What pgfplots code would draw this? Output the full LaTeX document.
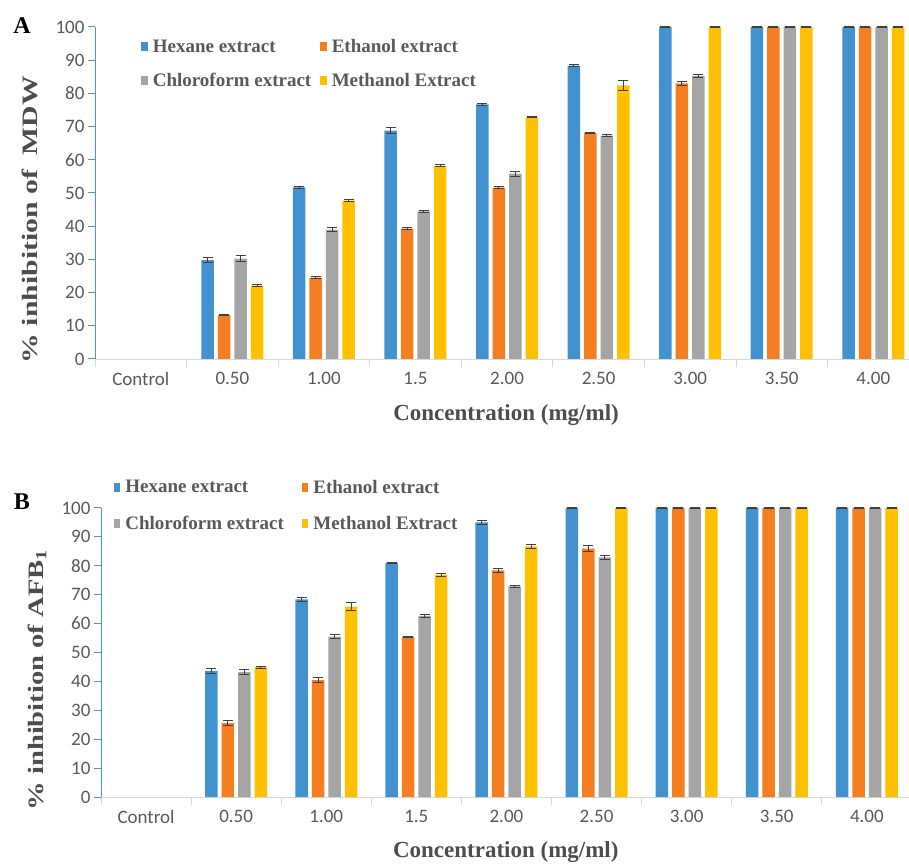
\documentclass[border=0pt]{standalone}
\usepackage{fontspec}
\setmainfont{Liberation Serif}
\newfontfamily\calib{Carlito}
\usepackage{graphicx}
\usepackage{pgfplots}
\pgfplotsset{compat=1.18}
\definecolor{cblue}{HTML}{4392D0}
\definecolor{corange}{HTML}{F47E20}
\definecolor{cgray}{HTML}{A5A5A5}
\definecolor{cyellow}{HTML}{FFC000}
\definecolor{axblue}{HTML}{4A95D3}
\definecolor{axgray}{HTML}{D9D9D9}
\definecolor{ticklab}{HTML}{595959}
\definecolor{labc}{HTML}{4D4D4D}
\definecolor{errc}{HTML}{404040}
\pgfplotsset{
  mybars/.style={
    scale only axis,
    ybar=4pt, bar width=12.5pt,
    ymin=0, ymax=100, ytick={0,10,...,100},
    xmin=-0.5,
    xtick={0,...,8},
    xticklabels={Control,0.50,1.00,1.5,2.00,2.50,3.00,3.50,4.00},
    minor xtick={-0.5,0.5,...,7.5},
    enlargelimits=false,
    axis x line*=bottom, axis y line*=left,
    x axis line style={draw=axgray, line width=0.9pt, -},
    y axis line style={draw=axblue, line width=1pt, -},
    tick align=outside,
    major x tick style={draw=none},
    minor x tick style={draw=axgray, line width=0.9pt},
    minor tick length=8pt,
    y tick style={draw=axblue, line width=1pt},
    major tick length=7pt,
    /pgf/number format/assume math mode=true,
    tick label style={font=\calib\fontsize{19}{19}\selectfont, text=ticklab},
    xticklabel style={yshift=-3pt},
    legend columns=2,
    legend cell align=left,
    legend image code/.code={\fill[##1] (0pt,-4.5pt) rectangle (6.5pt,4.5pt);},
    legend style={draw=none, fill=none, anchor=north west,
      font=\bfseries\fontsize{19}{19}\selectfont, text=ticklab,
      /tikz/every odd column/.append style={column sep=3pt}},
    xlabel={Concentration (mg/ml)},
    xlabel style={font=\bfseries\fontsize{23}{23}\selectfont, text=labc, anchor=center},
    ylabel style={font=\bfseries\fontsize{22}{22}\selectfont, text=labc, anchor=center},
    every axis plot/.append style={draw=none},
    error bars/y dir=both, error bars/y explicit,
    error bars/error bar style={errc, line width=1pt},
    error bars/error mark options={errc, line width=1pt, mark size=5pt, rotate=90},
  }
}
\begin{document}
\begin{tikzpicture}[x=1pt,y=1pt]
\useasboundingbox (0,0) rectangle (909,864);
% ---------------- Panel A ----------------
\begin{axis}[mybars,
  at={(95pt,505pt)}, anchor=south west,
  width=814pt, height=332pt, xmax=8.39,
  ylabel={\scalebox{1.35}[1]{\% inhibition of\ \ MDW}},
  ylabel style={at={(axis description cs:-0.08,0.42)}},
  xlabel style={at={(axis description cs:0.505,-0.169)}},
  legend style={at={(axis description cs:0.053,0.975)}, row sep=15pt,
    /tikz/every even column/.append style={column sep=7pt}},
]
\addplot[fill=cblue] coordinates {
 (1,29.8) +- (0,0.8) (2,51.7) +- (0,0.3) (3,68.8) +- (0,0.8) (4,76.7) +- (0,0.3)
 (5,88.4) +- (0,0.2) (6,100) +- (0,0.2) (7,100) +- (0,0.2) (8,100) +- (0,0.2)};
\addplot[fill=corange] coordinates {
 (1,13.2) +- (0,0.2) (2,24.5) +- (0,0.3) (3,39.3) +- (0,0.3) (4,51.6) +- (0,0.3)
 (5,68.1) +- (0,0.2) (6,83.0) +- (0,0.6) (7,100) +- (0,0.2) (8,100) +- (0,0.2)};
\addplot[fill=cgray] coordinates {
 (1,30.2) +- (0,0.9) (2,39.0) +- (0,0.6) (3,44.5) +- (0,0.3) (4,55.8) +- (0,0.7)
 (5,67.3) +- (0,0.4) (6,85.3) +- (0,0.4) (7,100) +- (0,0.2) (8,100) +- (0,0.2)};
\addplot[fill=cyellow] coordinates {
 (1,22.1) +- (0,0.3) (2,47.7) +- (0,0.3) (3,58.2) +- (0,0.3) (4,72.8) +- (0,0.2)
 (5,82.4) +- (0,1.4) (6,100) +- (0,0.2) (7,100) +- (0,0.2) (8,100) +- (0,0.2)};
\legend{Hexane extract, Ethanol extract, Chloroform extract, Methanol Extract}
\end{axis}
% ---------------- Panel B ----------------
\begin{axis}[mybars,
  at={(101pt,67pt)}, anchor=south west,
  width=808pt, height=289pt, xmax=8.468,
  ylabel={\scalebox{1.3}[1]{\% inhibition of AFB\textsubscript{1}}},
  ylabel style={at={(axis description cs:-0.079,0.405)}},
  xlabel style={at={(axis description cs:0.501,-0.19)}},
  legend style={at={(axis description cs:0.012,1.112)}, row sep=18pt,
    /tikz/every even column/.append style={column sep=16pt}},
]
\addplot[fill=cblue] coordinates {
 (1,43.6) +- (0,0.7) (2,68.4) +- (0,0.8) (3,81.0) +- (0,0.3) (4,95.0) +- (0,0.8)
 (5,100) +- (0,0.2) (6,100) +- (0,0.2) (7,100) +- (0,0.2) (8,100) +- (0,0.2)};
\addplot[fill=corange] coordinates {
 (1,25.6) +- (0,0.8) (2,40.4) +- (0,0.9) (3,55.4) +- (0,0.3) (4,78.4) +- (0,0.8)
 (5,85.9) +- (0,1.0) (6,100) +- (0,0.2) (7,100) +- (0,0.2) (8,100) +- (0,0.2)};
\addplot[fill=cgray] coordinates {
 (1,43.3) +- (0,0.8) (2,55.5) +- (0,0.8) (3,62.7) +- (0,0.5) (4,72.9) +- (0,0.3)
 (5,82.9) +- (0,0.7) (6,100) +- (0,0.2) (7,100) +- (0,0.2) (8,100) +- (0,0.2)};
\addplot[fill=cyellow] coordinates {
 (1,44.9) +- (0,0.3) (2,65.9) +- (0,1.3) (3,76.9) +- (0,0.6) (4,86.7) +- (0,0.7)
 (5,100) +- (0,0.2) (6,100) +- (0,0.2) (7,100) +- (0,0.2) (8,100) +- (0,0.2)};
\legend{Hexane extract, Ethanol extract, Chloroform extract, Methanol Extract}
\end{axis}
\node[font=\bfseries\fontsize{24}{24}\selectfont, text=black] at (22,838) {A};
\node[font=\bfseries\fontsize{24}{24}\selectfont, text=black] at (22,362) {B};
\end{tikzpicture}
\end{document}
